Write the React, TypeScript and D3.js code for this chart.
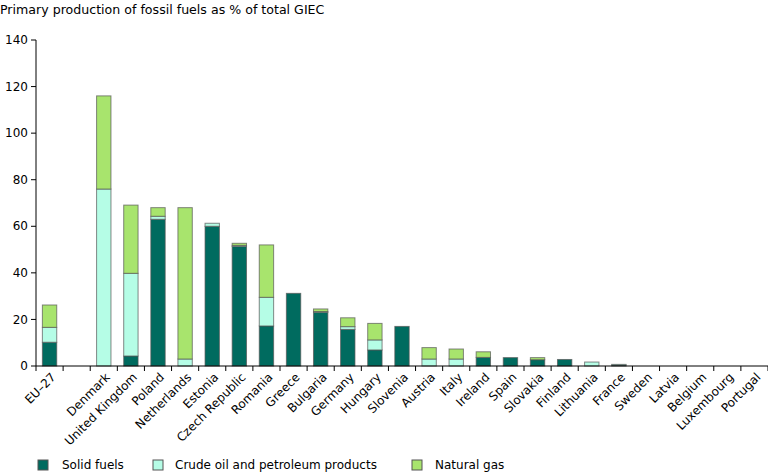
import React from "react";
import * as d3 from "d3";

const categories = ["EU-27", "", "Denmark", "United Kingdom", "Poland", "Netherlands", "Estonia", "Czech Republic", "Romania", "Greece", "Bulgaria", "Germany", "Hungary", "Slovenia", "Austria", "Italy", "Ireland", "Spain", "Slovakia", "Finland", "Lithuania", "France", "Sweden", "Latvia", "Belgium", "Luxembourg", "Portugal"];
const solidFuels = [10.2, 0, 0, 4.3, 63, 0, 60, 51.3, 17.2, 31.2, 23, 15.7, 6.9, 17, 0, 0, 3.7, 3.6, 2.7, 2.8, 0, 0.4, 0, 0, 0, 0, 0];
const crudeOil = [6.4, 0, 76, 35.5, 1.3, 3, 1.3, 0.5, 12.3, 0, 0.4, 1.2, 4.3, 0, 3, 3, 0, 0, 0, 0, 1.7, 0.3, 0, 0, 0, 0, 0];
const naturalGas = [9.6, 0, 40, 29.3, 3.7, 65, 0, 0.9, 22.5, 0, 1.1, 3.8, 7.1, 0, 4.9, 4.3, 2.4, 0, 0.9, 0, 0, 0, 0, 0, 0, 0, 0];
const seriesNames = ["Solid fuels", "Crude oil and petroleum products", "Natural gas"];
const yTicks = [0, 20, 40, 60, 80, 100, 120, 140];
const title = "Primary production of fossil fuels as % of total GIEC";

const colors = ["#006b5f", "#b5fde6", "#a8e46d"];
const font = "Verdana, 'DejaVu Sans', sans-serif";

export default function App() {
  const W = 768, H = 473;
  const x0 = 36, x1 = 768, yTop = 40, yBot = 366;
  const x = d3.scaleBand<number>().domain(d3.range(categories.length)).range([x0, x1]).paddingInner(0.47).paddingOuter(0.235);
  const y = d3.scaleLinear().domain([0, 140]).range([yBot, yTop]);
  const series = [solidFuels, crudeOil, naturalGas];
  const step = (x1 - x0) / categories.length;

  const rects: React.ReactNode[] = [];
  categories.forEach((c, i) => {
    let acc = 0;
    series.forEach((s, k) => {
      const v = s[i];
      if (v > 0) {
        const ya = y(acc), yb = y(acc + v);
        rects.push(
          <rect key={`${i}-${k}`} x={x(i)} y={yb} width={x.bandwidth()} height={ya - yb}
            fill={colors[k]} stroke="#555" strokeOpacity={0.7} strokeWidth={1} />
        );
        acc += v;
      }
    });
  });

  const legendX = [38, 153, 412];
  const textX = [62, 175, 435];

  return (
    <svg width={W} height={H} style={{ position: "absolute", left: 0, top: 0 }} fontFamily={font}>
      <text x={0} y={14} fontSize={12.6} fill="#000">{title}</text>
      {rects}
      <line x1={x0} x2={x0} y1={yTop} y2={yBot} stroke="#000" />
      <line x1={x0} x2={x1} y1={yBot} y2={yBot} stroke="#000" />
      {yTicks.map(t => (
        <g key={t}>
          <line x1={x0 - 5} x2={x0} y1={y(t)} y2={y(t)} stroke="#000" />
          <text x={x0 - 8} y={y(t)} dy="0.35em" textAnchor="end" fontSize={12} fill="#000">{t}</text>
        </g>
      ))}
      {d3.range(categories.length + 1).map(i => (
        <line key={i} x1={x0 + i * step} x2={x0 + i * step} y1={yBot} y2={yBot + 5} stroke="#000" />
      ))}
      {categories.map((c, i) => (
        <text key={i} transform={`translate(${(x(i) as number) + x.bandwidth() / 2 + 4},${yBot + 9}) rotate(-45)`}
          textAnchor="end" dy="0.35em" fontSize={12} fill="#000">{c === "EU-27" ? "EU\u201327" : c}</text>
      ))}
      {seriesNames.map((n, k) => (
        <g key={n}>
          <rect x={legendX[k]} y={460} width={10} height={10} fill={colors[k]} stroke="#555" />
          <text x={textX[k]} y={469} fontSize={12} fill="#000">{n}</text>
        </g>
      ))}
    </svg>
  );
}
